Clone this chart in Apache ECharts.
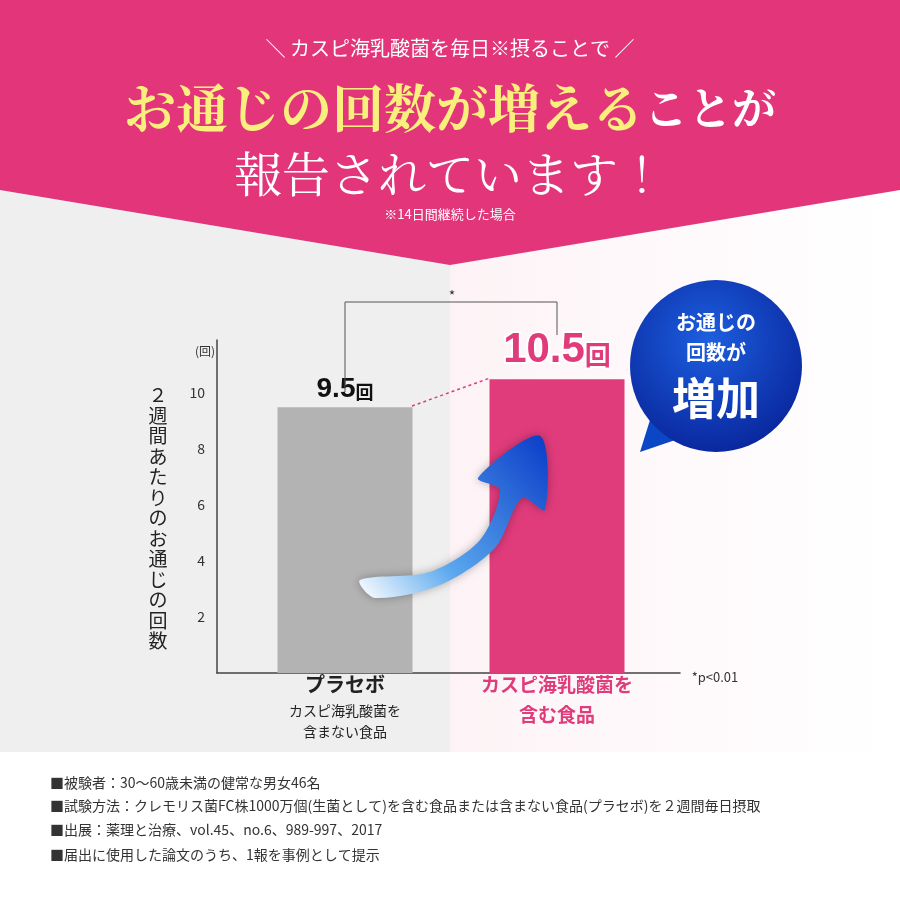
<!DOCTYPE html>
<html><head><meta charset="utf-8">
<script src="https://cdn.jsdelivr.net/npm/echarts@6/dist/echarts.min.js"></script>
<style>html,body{margin:0;padding:0}#c{width:900px;height:900px}</style>
</head><body><div id="c"></div>
<script>
const categories = ['プラセボ', 'カスピ海乳酸菌を含む食品'];
const values = [9.5, 10.5];
const yTicks = [2, 4, 6, 8, 10];
const F = '"Noto Sans CJK JP", sans-serif';
const chart = echarts.init(document.getElementById('c'));
const T = (x, y, text, size, color, extra) => Object.assign({type:'text', x, y, z:10, style:Object.assign({text, fontSize:size, fill:color, fontFamily:F}, extra||{})});
const ytitle = '２週間あたりのお通じの回数'.split('').join('\n');
chart.setOption({
  animation:false,
  grid:[{left:217, right:220, top:340, bottom:227},{left:239, right:237, top:340, bottom:227}],
  xAxis:[{type:'category', gridIndex:0, data:categories, axisLine:{lineStyle:{color:'#444', width:1.5}}, axisTick:{show:false}, axisLabel:{show:false}},
         {type:'category', gridIndex:1, data:categories, show:false}],
  yAxis:[{type:'value', gridIndex:0, min:0, max:11.9, interval:2, splitLine:{show:false},
    axisLine:{show:true, lineStyle:{color:'#444', width:1.5}}, axisTick:{show:false},
    axisLabel:{color:'#333', fontSize:14, fontFamily:F, margin:12, formatter:v=>yTicks.includes(v)?String(v):''}},
    {type:'value', gridIndex:1, min:0, max:11.9, interval:2, show:false}],
  series:[{type:'bar', xAxisIndex:1, yAxisIndex:1, barWidth:135, z:3,
    data:[
      {value:values[0], itemStyle:{color:'#b3b3b3'}, label:{show:true, position:'top', distance:4,
        formatter:'{a|'+values[0]+'}{b|回}', rich:{a:{fontSize:28, fontWeight:'bold', color:'#111', fontFamily:'Liberation Sans'}, b:{fontSize:18, fontWeight:'bold', color:'#111', fontFamily:F, padding:[6,0,0,0]}}}},
      {value:values[1], itemStyle:{color:'#e03b7b'}, label:{show:true, position:'top', distance:8,
        formatter:'{a|'+values[1]+'}{b|回}', rich:{a:{fontSize:42, fontWeight:'bold', color:'#e03b7b', textBorderColor:'#fff', textBorderWidth:4, fontFamily:'Liberation Sans'}, b:{fontSize:26, fontWeight:'bold', color:'#e03b7b', textBorderColor:'#fff', textBorderWidth:4, fontFamily:F, padding:[10,0,0,0]}}}}
    ]}],
  graphic:[
    {type:'rect', z:-10, shape:{x:0,y:0,width:900,height:900}, style:{fill:'#fff'}},
    {type:'rect', z:-9, shape:{x:0,y:0,width:450,height:752}, style:{fill:'#efefef'}},
    {type:'rect', z:-9, shape:{x:450,y:0,width:450,height:752}, style:{fill:new echarts.graphic.LinearGradient(0,0,1,0,[{offset:0,color:'#fdf3f6'},{offset:1,color:'#ffffff'}])}},
    {type:'polygon', z:-8, shape:{points:[[0,0],[900,0],[900,190],[450,265],[0,190]]}, style:{fill:'#e2357a'}},
    T(450,48,'＼ カスピ海乳酸菌を毎日※摂ることで ／',20,'#fff',{align:'center',verticalAlign:'middle'}),
    {type:'text', x:450, y:108, z:10, style:{text:'{y|お通じの回数が増える}{w|ことが}', align:'center', verticalAlign:'middle',
      rich:{y:{fontSize:52, fill:'#f8ef7c', fontFamily:'"Noto Serif CJK JP","Noto Sans CJK JP"', fontWeight:'bold'}, w:{fontSize:44, fill:'#fff', fontFamily:'"Noto Serif CJK JP","Noto Sans CJK JP"', fontWeight:'bold'}}}},
    T(450,174,'報告されています！',48,'#fff',{align:'center',verticalAlign:'middle',fontFamily:'"Noto Serif CJK JP","Noto Sans CJK JP"'}),
    T(450,214,'※14日間継続した場合',13,'#fff',{align:'center',verticalAlign:'middle'}),
    T(205,351,'(回)',12,'#333',{align:'center',verticalAlign:'middle'}),
    T(158,385,ytitle,19,'#222',{align:'center',lineHeight:20.5}),
    {type:'polyline', z:5, shape:{points:[[345,392],[345,302],[557,302],[557,335]]}, style:{stroke:'#555', lineWidth:1}},
    T(452,296,'*',14,'#333',{align:'center',verticalAlign:'middle'}),
    {type:'line', z:5, shape:{x1:412,y1:406,x2:490,y2:378}, style:{stroke:'#e03b7b', lineWidth:1.5, lineDash:[3,3]}},
    {type:'polygon', z:6, shape:{points:[[360,580],[430,572],[480,540],[500,490],[478,478],[540,436],[545,510],[522,498],[495,548],[440,585],[375,598]], smooth:0.3},
      style:{fill:new echarts.graphic.LinearGradient(0,1,1,0,[{offset:0,color:'#ffffff'},{offset:0.35,color:'#5aa8ee'},{offset:1,color:'#0a3cc8'}]), shadowBlur:10, shadowColor:'rgba(0,0,0,0.3)'}},
    {type:'polygon', z:6, shape:{points:[[650,420],[640,452],[690,435]]}, style:{fill:'#0b46c4'}},
    {type:'circle', z:6, shape:{cx:716,cy:366,r:86}, style:{fill:new echarts.graphic.RadialGradient(0.45,0.35,0.7,[{offset:0,color:'#1d5fe0'},{offset:1,color:'#08249a'}])}},
    T(716,322,'お通じの',20,'#fff',{align:'center',verticalAlign:'middle',fontWeight:'bold'}),
    T(716,352,'回数が',20,'#fff',{align:'center',verticalAlign:'middle',fontWeight:'bold'}),
    T(716,398,'増加',44,'#fff',{align:'center',verticalAlign:'middle',fontWeight:'bold'}),
    T(345,684,'プラセボ',20,'#222',{align:'center',verticalAlign:'middle',fontWeight:'bold'}),
    T(345,711,'カスピ海乳酸菌を',14,'#222',{align:'center',verticalAlign:'middle'}),
    T(345,732,'含まない食品',14,'#222',{align:'center',verticalAlign:'middle'}),
    T(557,685,'カスピ海乳酸菌を',19,'#e03b7b',{align:'center',verticalAlign:'middle',fontWeight:'bold'}),
    T(557,715,'含む食品',19,'#e03b7b',{align:'center',verticalAlign:'middle',fontWeight:'bold'}),
    T(715,677,'*p<0.01',13,'#333',{align:'center',verticalAlign:'middle'}),
    T(50,783,'■被験者：30～60歳未満の健常な男女46名',14,'#333',{verticalAlign:'middle'}),
    T(50,806,'■試験方法：クレモリス菌FC株1000万個(生菌として)を含む食品または含まない食品(プラセボ)を２週間毎日摂取',14,'#333',{verticalAlign:'middle'}),
    T(50,830,'■出展：薬理と治療、vol.45、no.6、989-997、2017',14,'#333',{verticalAlign:'middle'}),
    T(50,855,'■届出に使用した論文のうち、1報を事例として提示',14,'#333',{verticalAlign:'middle'})
  ]
});
</script></body></html>
